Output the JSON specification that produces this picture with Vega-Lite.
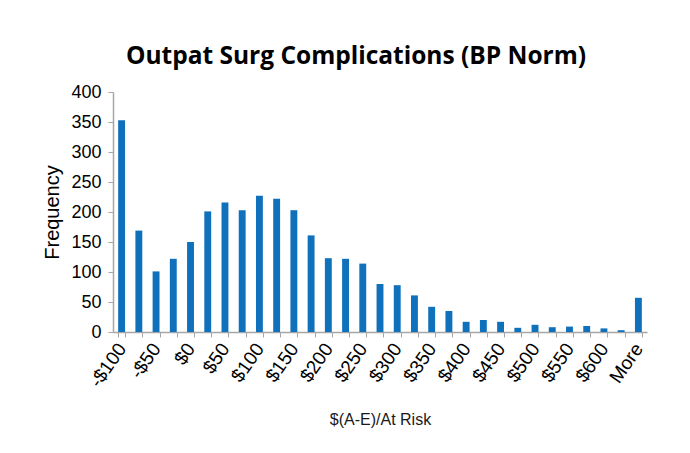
{
  "$schema": "https://vega.github.io/schema/vega-lite/v6.json",
  "autosize": {"type": "none"},
  "padding": {"left": 113, "top": 92, "right": 43, "bottom": 121},
  "width": 534,
  "height": 240,
  "background": "white",
  "title": {
    "text": "Outpat Surg Complications (BP Norm)",
    "font": "Open Sans",
    "fontSize": 24.5,
    "fontWeight": "bold",
    "color": "#000000",
    "anchor": "middle",
    "offset": 14,
    "dx": -24
  },
  "data": {
    "values": [
      {"bin": "-$100", "freq": 353},
      {"bin": "-$75", "freq": 169},
      {"bin": "-$50", "freq": 101},
      {"bin": "-$25", "freq": 122},
      {"bin": "$0", "freq": 150},
      {"bin": "$25", "freq": 201},
      {"bin": "$50", "freq": 216},
      {"bin": "$75", "freq": 203},
      {"bin": "$100", "freq": 227},
      {"bin": "$125", "freq": 222},
      {"bin": "$150", "freq": 203},
      {"bin": "$175", "freq": 161},
      {"bin": "$200", "freq": 123},
      {"bin": "$225", "freq": 122},
      {"bin": "$250", "freq": 114},
      {"bin": "$275", "freq": 80},
      {"bin": "$300", "freq": 78},
      {"bin": "$325", "freq": 61},
      {"bin": "$350", "freq": 42},
      {"bin": "$375", "freq": 35},
      {"bin": "$400", "freq": 17},
      {"bin": "$425", "freq": 20},
      {"bin": "$450", "freq": 17},
      {"bin": "$475", "freq": 7},
      {"bin": "$500", "freq": 12},
      {"bin": "$525", "freq": 8},
      {"bin": "$550", "freq": 9},
      {"bin": "$575", "freq": 10},
      {"bin": "$600", "freq": 6},
      {"bin": "$625", "freq": 3},
      {"bin": "More", "freq": 57}
    ]
  },
  "mark": {"type": "bar", "color": "#0F70BB"},
  "encoding": {
    "x": {
      "field": "bin",
      "type": "nominal",
      "sort": null,
      "scale": {"paddingInner": 0.6, "paddingOuter": 0.3},
      "axis": {
        "title": "$(A-E)/At Risk",
        "titleFont": "Liberation Sans",
        "titleFontSize": 16,
        "titleFontWeight": "normal",
        "titleColor": "#1a1a1a",
        "titlePadding": 21,
        "labelFont": "Liberation Sans",
        "labelFontSize": 19,
        "labelColor": "#000000",
        "labelAngle": -55,
        "labelPadding": 8,
        "labelExpr": "test(/(25|75)$/, datum.label) ? '' : datum.label",
        "labelOverlap": false,
        "tickBand": "extent",
        "tickSize": 5,
        "tickColor": "#A6A6A6",
        "domainColor": "#A6A6A6",
        "domainWidth": 1.5
      }
    },
    "y": {
      "field": "freq",
      "type": "quantitative",
      "scale": {"domain": [0, 400], "nice": false},
      "axis": {
        "title": "Frequency",
        "titleFont": "Liberation Sans",
        "titleFontSize": 20,
        "titleFontWeight": "normal",
        "titleColor": "#000000",
        "titlePadding": 8,
        "values": [0, 50, 100, 150, 200, 250, 300, 350, 400],
        "labelFont": "Liberation Sans",
        "labelFontSize": 18,
        "labelColor": "#000000",
        "labelPadding": 7,
        "tickSize": 5,
        "tickColor": "#A6A6A6",
        "domainColor": "#A6A6A6",
        "domainWidth": 1.5,
        "grid": false
      }
    }
  },
  "config": {"view": {"stroke": null}}
}
